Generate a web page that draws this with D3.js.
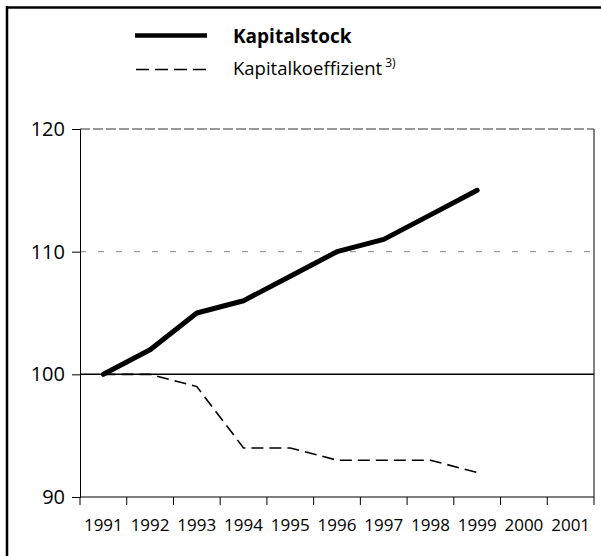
<!DOCTYPE html>
<html>
<head>
<meta charset="utf-8">
<script src="https://cdn.jsdelivr.net/npm/d3@7"></script>
<style>
  body { margin: 0; background: #fff; }
  text { font-family: "Open Sans", "Noto Sans", sans-serif; fill: #000; }
</style>
</head>
<body>
<div id="chart-area"></div>
<script>
var years = ["1991", "1992", "1993", "1994", "1995", "1996", "1997", "1998", "1999", "2000", "2001"];
var kapitalstock = [100, 102, 105, 106, 108, 110, 111, 113, 115];
var kapitalkoeffizient = [100, 100, 99, 94, 94, 93, 93, 93, 92];
var yTicks = [90, 100, 110, 120];

var margin = { left: 80, right: 7, top: 129, bottom: 59 };
var width = 601 - margin.left - margin.right;
var height = 556 - margin.top - margin.bottom;

var svg = d3.select("#chart-area")
    .append("svg")
    .attr("width", 601)
    .attr("height", 556);

// outer frame (top and left only)
svg.append("line").attr("x1", 6).attr("x2", 601).attr("y1", 7.5).attr("y2", 7.5)
    .attr("stroke", "#000").attr("stroke-width", 2.5);
svg.append("line").attr("x1", 7).attr("x2", 7).attr("y1", 6).attr("y2", 556)
    .attr("stroke", "#000").attr("stroke-width", 2.5);

var g = svg.append("g")
    .attr("transform", "translate(" + margin.left + ", " + margin.top + ")");

var x = d3.scaleBand()
    .domain(years)
    .range([0, width]);

var y = d3.scaleLinear()
    .domain([90, 120])
    .range([height, 0]);

// gridlines
g.append("line").attr("x1", 0).attr("x2", width).attr("y1", y(120)).attr("y2", y(120))
    .attr("stroke", "#333").attr("stroke-width", 1).attr("stroke-dasharray", "10,3");
g.append("line").attr("x1", 0).attr("x2", width).attr("y1", y(110)).attr("y2", y(110))
    .attr("stroke", "#888").attr("stroke-width", 1).attr("stroke-dasharray", "6,12");
g.append("line").attr("x1", 0).attr("x2", width).attr("y1", y(100)).attr("y2", y(100))
    .attr("stroke", "#000").attr("stroke-width", 1.5);

// y axis
var yAxis = g.append("g")
    .call(d3.axisLeft(y).tickValues(yTicks).tickSize(8).tickPadding(7));
yAxis.select(".domain").attr("stroke", "#000").attr("stroke-width", 1);
yAxis.selectAll("text")
    .attr("font-size", "20px")
    .attr("fill", "#000")
    .style("font-family", "'Open Sans', sans-serif");

// right border
g.append("line").attr("x1", width).attr("x2", width).attr("y1", 0).attr("y2", height)
    .attr("stroke", "#000").attr("stroke-width", 1);

// x axis: ticks at band boundaries
var xAxisGroup = g.append("g")
    .attr("transform", "translate(0," + height + ")");
xAxisGroup.append("line").attr("x1", 0).attr("x2", width).attr("y1", 0).attr("y2", 0)
    .attr("stroke", "#000").attr("stroke-width", 1.2);
var bounds = years.map(function (d) { return x(d); }).concat([width]);
xAxisGroup.selectAll(".tick-b")
    .data(bounds)
    .enter()
    .append("line")
    .attr("x1", function (d) { return d; })
    .attr("x2", function (d) { return d; })
    .attr("y1", 0)
    .attr("y2", 8)
    .attr("stroke", "#000")
    .attr("stroke-width", 1);
xAxisGroup.selectAll(".yr")
    .data(years)
    .enter()
    .append("text")
    .attr("x", function (d) { return x(d) + x.bandwidth() / 2; })
    .attr("y", 34)
    .attr("text-anchor", "middle")
    .attr("font-size", "17px")
    .text(function (d) { return d; });

// lines
var line = d3.line()
    .x(function (d, i) { return x(years[i]) + x.bandwidth() / 2; })
    .y(function (d) { return y(d); });

g.append("path")
    .datum(kapitalkoeffizient)
    .attr("fill", "none")
    .attr("stroke", "#000")
    .attr("stroke-width", 1.6)
    .attr("stroke-dasharray", "12,6")
    .attr("d", line);

g.append("path")
    .datum(kapitalstock)
    .attr("fill", "none")
    .attr("stroke", "#000")
    .attr("stroke-width", 5)
    .attr("stroke-linecap", "round")
    .attr("stroke-linejoin", "round")
    .attr("d", line);

// legend
var legend = svg.append("g");
legend.append("line").attr("x1", 135).attr("x2", 207).attr("y1", 35.5).attr("y2", 35.5)
    .attr("stroke", "#000").attr("stroke-width", 4.5);
legend.append("line").attr("x1", 136).attr("x2", 207).attr("y1", 69.5).attr("y2", 69.5)
    .attr("stroke", "#000").attr("stroke-width", 1.6).attr("stroke-dasharray", "13,6");
legend.append("text").attr("x", 233).attr("y", 43)
    .attr("font-size", "19px").attr("font-weight", "bold")
    .text("Kapitalstock");
var t2 = legend.append("text").attr("x", 233).attr("y", 75)
    .attr("font-size", "18.5px");
t2.append("tspan").text("Kapitalkoeffizient");
t2.append("tspan").attr("font-size", "12px").attr("dx", 3).attr("dy", -8).text("3)");
</script>
</body>
</html>
